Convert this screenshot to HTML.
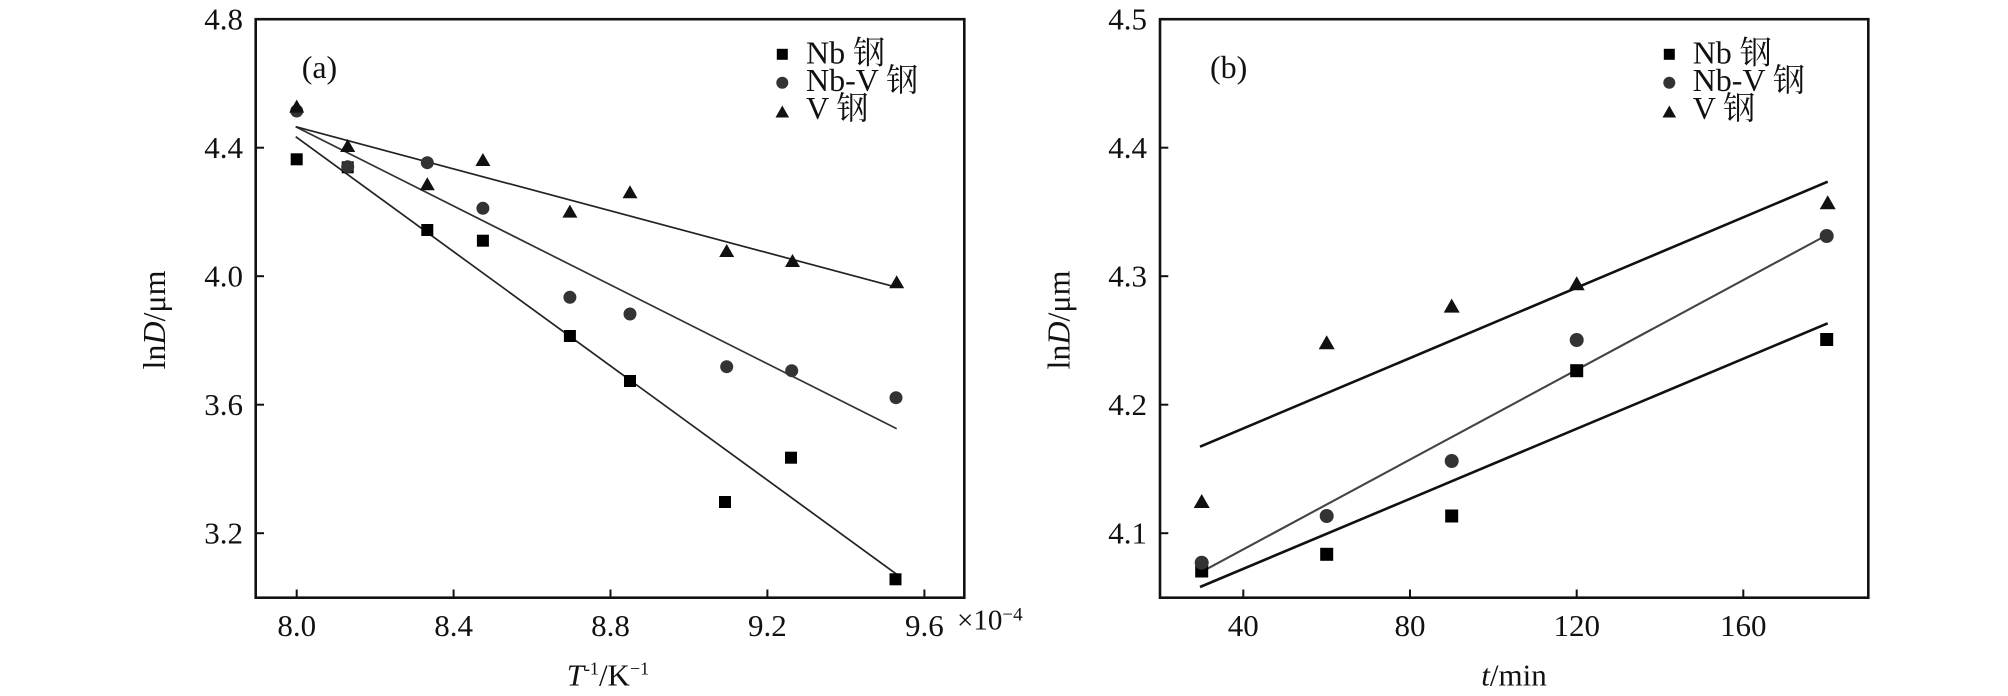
<!DOCTYPE html>
<html>
<head>
<meta charset="utf-8">
<style>
html,body{margin:0;padding:0;background:#fff;}
svg{display:block;}
text{font-family:"Liberation Serif","Noto Serif CJK SC",serif;fill:#111;}
</style>
</head>
<body>
<svg width="2008" height="696" viewBox="0 0 2008 696" xmlns="http://www.w3.org/2000/svg">
<rect x="0" y="0" width="2008" height="696" fill="#fff"/>

<!-- ================= Panel (a) ================= -->
<g>
  <!-- regression lines -->
  <line x1="295.7" y1="136.7" x2="896.7" y2="574.3" stroke="#222" stroke-width="1.7"/>
  <line x1="295.7" y1="126.7" x2="896.7" y2="428.7" stroke="#333" stroke-width="1.7"/>
  <line x1="295.7" y1="126.7" x2="896.7" y2="287.3" stroke="#222" stroke-width="1.7"/>

  <!-- Nb squares -->
  <g fill="#000">
    <rect x="290.7" y="153.3" width="12" height="12"/>
    <rect x="341.7" y="161.3" width="12" height="12"/>
    <rect x="421.3" y="224" width="12" height="12"/>
    <rect x="476.9" y="234.7" width="12" height="12"/>
    <rect x="563.9" y="330" width="12" height="12"/>
    <rect x="624" y="375" width="12" height="12"/>
    <rect x="719" y="496" width="12" height="12"/>
    <rect x="785" y="451.7" width="12" height="12"/>
    <rect x="889.5" y="573.3" width="12" height="12"/>
  </g>
  <!-- Nb-V circles -->
  <g fill="#333">
    <circle cx="296.7" cy="111" r="6.5"/>
    <circle cx="347.7" cy="166.7" r="6.5"/>
    <circle cx="427.3" cy="162.7" r="6.5"/>
    <circle cx="482.9" cy="208.3" r="6.5"/>
    <circle cx="569.9" cy="297.3" r="6.5"/>
    <circle cx="630" cy="314" r="6.5"/>
    <circle cx="726.7" cy="366.7" r="6.5"/>
    <circle cx="791.7" cy="370.7" r="6.5"/>
    <circle cx="896" cy="397.7" r="6.5"/>
  </g>
  <!-- V triangles -->
  <g fill="#111">
    <polygon points="296.7,99.6 289.2,112.6 304.2,112.6"/>
    <polygon points="347.7,139 340.2,152 355.2,152"/>
    <polygon points="427.3,177.3 419.8,190.3 434.8,190.3"/>
    <polygon points="482.9,153 475.4,166 490.4,166"/>
    <polygon points="569.9,204.6 562.4,217.6 577.4,217.6"/>
    <polygon points="630,185.3 622.5,198.3 637.5,198.3"/>
    <polygon points="726.7,244 719.2,257 734.2,257"/>
    <polygon points="792.5,254 785,267 800,267"/>
    <polygon points="896.7,275.3 889.2,288.3 904.2,288.3"/>
  </g>

  <!-- frame -->
  <rect x="255.7" y="19.2" width="708.6" height="578.5" fill="none" stroke="#111" stroke-width="2.6"/>
  <!-- y ticks -->
  <g stroke="#111" stroke-width="2">
    <line x1="255.7" y1="147.7" x2="264" y2="147.7"/>
    <line x1="255.7" y1="276.2" x2="264" y2="276.2"/>
    <line x1="255.7" y1="404.7" x2="264" y2="404.7"/>
    <line x1="255.7" y1="533.2" x2="264" y2="533.2"/>
    <!-- x ticks -->
    <line x1="296.7" y1="597.7" x2="296.7" y2="589.5"/>
    <line x1="453.6" y1="597.7" x2="453.6" y2="589.5"/>
    <line x1="610.5" y1="597.7" x2="610.5" y2="589.5"/>
    <line x1="767.4" y1="597.7" x2="767.4" y2="589.5"/>
    <line x1="924.4" y1="597.7" x2="924.4" y2="589.5"/>
  </g>
  <!-- y tick labels -->
  <g font-size="31" text-anchor="end">
    <text x="243" y="29.7">4.8</text>
    <text x="243" y="158.2">4.4</text>
    <text x="243" y="286.7">4.0</text>
    <text x="243" y="415.2">3.6</text>
    <text x="243" y="543.7">3.2</text>
  </g>
  <!-- x tick labels -->
  <g font-size="31" text-anchor="middle">
    <text x="296.7" y="636">8.0</text>
    <text x="453.6" y="636">8.4</text>
    <text x="610.5" y="636">8.8</text>
    <text x="767.4" y="636">9.2</text>
    <text x="924.4" y="636">9.6</text>
  </g>
  <text x="957" y="629.5" font-size="29">×10<tspan font-size="19" dy="-9">−4</tspan></text>

  <!-- axis labels -->
  <text x="566.7" y="685.3" font-size="31"><tspan font-style="italic">T</tspan><tspan font-size="18" dy="-11">-1</tspan><tspan dy="11">/K</tspan><tspan font-size="18" dy="-11">−1</tspan></text>
  <text transform="translate(165,320) rotate(-90)" x="0" y="0" font-size="32" text-anchor="middle">ln<tspan font-style="italic">D</tspan>/μm</text>

  <!-- panel tag -->
  <text x="301.7" y="78" font-size="32">(a)</text>

  <!-- legend -->
  <rect x="776.8" y="48.8" width="11" height="11" fill="#000"/>
  <circle cx="782.3" cy="82.7" r="6" fill="#333"/>
  <polygon points="782.3,105.5 775.5,117.5 789.1,117.5" fill="#111"/>
  <g font-size="32">
    <text x="806" y="63.5">Nb 钢</text>
    <text x="806" y="91">Nb-V 钢</text>
    <text x="806" y="119">V 钢</text>
  </g>
</g>

<!-- ================= Panel (b) ================= -->
<g>
  <!-- regression lines -->
  <line x1="1200" y1="446.7" x2="1827.7" y2="181.7" stroke="#111" stroke-width="2.6"/>
  <line x1="1200" y1="572.7" x2="1827" y2="235" stroke="#444" stroke-width="2.1"/>
  <line x1="1200" y1="587" x2="1827.7" y2="323.3" stroke="#111" stroke-width="2.6"/>

  <!-- Nb squares -->
  <g fill="#000">
    <rect x="1195.2" y="564.5" width="13" height="13"/>
    <rect x="1320.2" y="547.8" width="13" height="13"/>
    <rect x="1445.2" y="509.5" width="13" height="13"/>
    <rect x="1570.2" y="364.2" width="13" height="13"/>
    <rect x="1820.2" y="333" width="13" height="13"/>
  </g>
  <!-- Nb-V circles -->
  <g fill="#333">
    <circle cx="1201.7" cy="562.7" r="7"/>
    <circle cx="1326.7" cy="516" r="7"/>
    <circle cx="1451.7" cy="461" r="7"/>
    <circle cx="1576.7" cy="340" r="7"/>
    <circle cx="1826.7" cy="236" r="7"/>
  </g>
  <!-- V triangles -->
  <g fill="#111">
    <polygon points="1201.7,494 1193.7,508 1209.7,508"/>
    <polygon points="1326.7,335.3 1318.7,349.3 1334.7,349.3"/>
    <polygon points="1451.7,298.6 1443.7,312.6 1459.7,312.6"/>
    <polygon points="1576.7,276.3 1568.7,290.3 1584.7,290.3"/>
    <polygon points="1827.7,195.3 1819.7,209.3 1835.7,209.3"/>
  </g>

  <!-- frame -->
  <rect x="1160" y="19.2" width="708.3" height="578.5" fill="none" stroke="#111" stroke-width="2.6"/>
  <g stroke="#111" stroke-width="2">
    <line x1="1160" y1="147.7" x2="1168.3" y2="147.7"/>
    <line x1="1160" y1="276.2" x2="1168.3" y2="276.2"/>
    <line x1="1160" y1="404.7" x2="1168.3" y2="404.7"/>
    <line x1="1160" y1="533.2" x2="1168.3" y2="533.2"/>
    <line x1="1243.3" y1="597.7" x2="1243.3" y2="589.5"/>
    <line x1="1410" y1="597.7" x2="1410" y2="589.5"/>
    <line x1="1576.7" y1="597.7" x2="1576.7" y2="589.5"/>
    <line x1="1743.3" y1="597.7" x2="1743.3" y2="589.5"/>
  </g>
  <g font-size="31" text-anchor="end">
    <text x="1147" y="29.7">4.5</text>
    <text x="1147" y="158.2">4.4</text>
    <text x="1147" y="286.7">4.3</text>
    <text x="1147" y="415.2">4.2</text>
    <text x="1147" y="543.7">4.1</text>
  </g>
  <g font-size="31" text-anchor="middle">
    <text x="1243.3" y="636">40</text>
    <text x="1410" y="636">80</text>
    <text x="1576.7" y="636">120</text>
    <text x="1743.3" y="636">160</text>
  </g>

  <text x="1514" y="685.3" font-size="31" text-anchor="middle"><tspan font-style="italic">t</tspan>/min</text>
  <text transform="translate(1069.3,320) rotate(-90)" x="0" y="0" font-size="32" text-anchor="middle">ln<tspan font-style="italic">D</tspan>/μm</text>

  <text x="1210" y="78" font-size="32">(b)</text>

  <rect x="1663.8" y="48.8" width="11" height="11" fill="#000"/>
  <circle cx="1669.3" cy="82.7" r="6" fill="#333"/>
  <polygon points="1669.3,105.5 1662.5,117.5 1676.1,117.5" fill="#111"/>
  <g font-size="32">
    <text x="1692.7" y="63.5">Nb 钢</text>
    <text x="1692.7" y="91">Nb-V 钢</text>
    <text x="1692.7" y="119">V 钢</text>
  </g>
</g>
</svg>
</body>
</html>
